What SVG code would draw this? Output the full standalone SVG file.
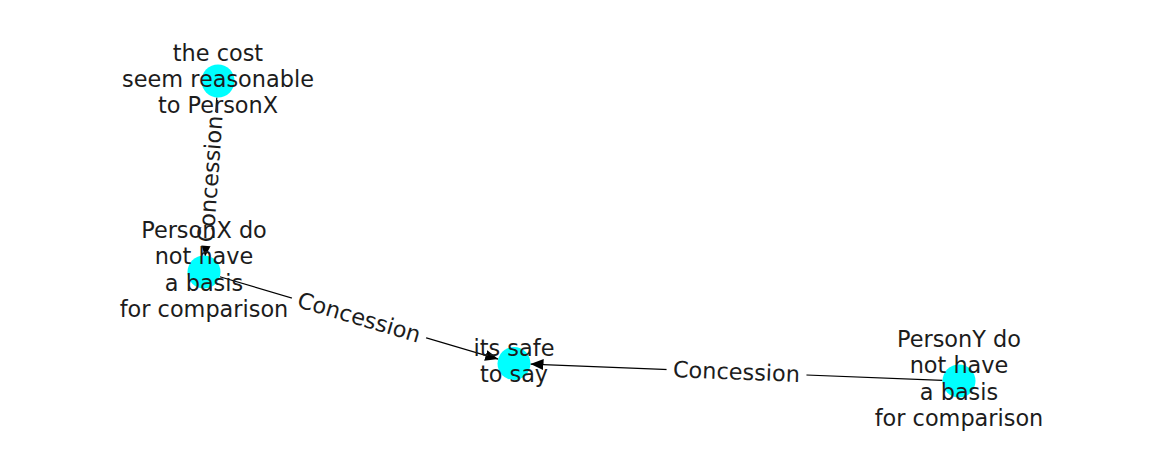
<svg xmlns="http://www.w3.org/2000/svg" width="1162" height="462" viewBox="0 0 1162 462">
  <style>
    .bg { fill: #ffffff; }
    .edge { stroke: #000000; stroke-width: 1.1; fill: none; marker-end: url(#arrow); }
    .node { fill: #00ffff; }
    .lbl { font-family: "DejaVu Sans", "Liberation Sans", sans-serif; font-size: 22.4px; fill: #1c1c1c; text-anchor: middle; }
    .elbox { fill: #ffffff; stroke: none; }
  </style>
  <defs>
    <marker id="arrow" markerUnits="userSpaceOnUse" markerWidth="14" markerHeight="12" refX="13" refY="5.5" orient="auto">
      <path d="M0,0 L13,5.5 L0,11 z" fill="#000000"/>
    </marker>
  </defs>
  <rect class="bg" x="0" y="0" width="1162" height="462"/>

  <g id="connectors">
    <line class="edge" x1="216.8" y1="97.5" x2="205.2" y2="256.5"/>
    <line class="edge" x1="219.8" y1="276.7" x2="498.2" y2="359.1"/>
    <line class="edge" x1="942.5" y1="380.4" x2="530.5" y2="364.1"/>

    <g id="label-A-B" transform="translate(211,179) rotate(-85.8)">
      <rect class="elbox" x="-67" y="-15" width="134" height="30" rx="4"/>
      <text class="lbl" x="0" y="7">Concession</text>
    </g>
    <g id="label-B-C" transform="translate(359,318) rotate(16.5)">
      <rect class="elbox" x="-70" y="-15" width="140" height="30" rx="4"/>
      <text class="lbl" x="0" y="7">Concession</text>
    </g>
    <g id="label-D-C" transform="translate(736.5,372.5) rotate(2.2)">
      <rect class="elbox" x="-70" y="-15" width="140" height="30" rx="4"/>
      <text class="lbl" x="0" y="7">Concession</text>
    </g>
  </g>

  <g id="node-A">
    <circle class="node" cx="218" cy="81" r="16.5"/>
    <text class="lbl" x="218" y="60.5">the cost</text>
    <text class="lbl" x="218" y="86.8">seem reasonable</text>
    <text class="lbl" x="218" y="113.1">to PersonX</text>
  </g>

  <g id="node-B">
    <circle class="node" cx="204" cy="272" r="16.5"/>
    <text class="lbl" x="204" y="238">PersonX do</text>
    <text class="lbl" x="204" y="264.3">not have</text>
    <text class="lbl" x="204" y="290.6">a basis</text>
    <text class="lbl" x="204" y="316.9">for comparison</text>
  </g>

  <g id="node-C">
    <circle class="node" cx="514" cy="363.5" r="16.5"/>
    <text class="lbl" x="514" y="355.8">its safe</text>
    <text class="lbl" x="514" y="382.1">to say</text>
  </g>

  <g id="node-D">
    <circle class="node" cx="959" cy="381" r="16.5"/>
    <text class="lbl" x="959" y="347">PersonY do</text>
    <text class="lbl" x="959" y="373.3">not have</text>
    <text class="lbl" x="959" y="399.6">a basis</text>
    <text class="lbl" x="959" y="425.9">for comparison</text>
  </g>
</svg>
